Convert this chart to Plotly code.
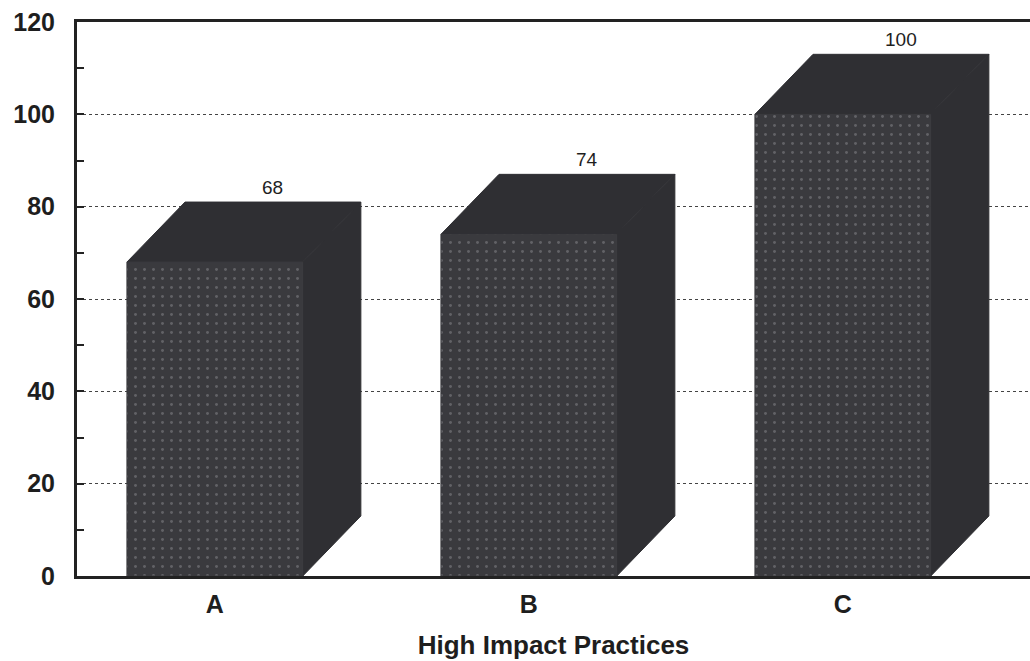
import plotly.graph_objects as go

categories = ["A", "B", "C"]
values = [68, 74, 100]
y_ticks = [0, 20, 40, 60, 80, 100, 120]

# pseudo-3D geometry (in axis units)
half_w = 0.28
depth_x = 0.185
depth_y = 13

front_color = "#3a3a3e"
side_color = "#2f2f33"
text_font = "Liberation Sans, Arial"

fig = go.Figure()
for i, (cat, v) in enumerate(zip(categories, values)):
    x0, x1 = i - half_w, i + half_w
    # side face
    fig.add_trace(go.Scatter(
        x=[x1, x1 + depth_x, x1 + depth_x, x1, x1],
        y=[0, depth_y, v + depth_y, v, 0],
        fill="toself", fillcolor=side_color, mode="lines",
        line=dict(color=side_color, width=1), hoverinfo="skip", showlegend=False))
    # top face
    fig.add_trace(go.Scatter(
        x=[x0, x0 + depth_x, x1 + depth_x, x1, x0],
        y=[v, v + depth_y, v + depth_y, v, v],
        fill="toself", fillcolor=side_color, mode="lines",
        line=dict(color=side_color, width=1), hoverinfo="skip", showlegend=False))
    # front face
    fig.add_trace(go.Scatter(
        x=[x0, x1, x1, x0, x0],
        y=[0, 0, v, v, 0],
        fill="toself", fillcolor=front_color, mode="lines",
        fillpattern=dict(shape=".", fgcolor="#8a8a8e", bgcolor=front_color,
                         size=9, solidity=0.08),
        line=dict(color=front_color, width=1), hoverinfo="skip", showlegend=False))
    fig.add_annotation(x=i + depth_x, y=v + depth_y, text=str(v), showarrow=False,
                       yanchor="bottom", yshift=2,
                       font=dict(family=text_font, size=19, color="#1e1e1e"))

fig.update_layout(
    width=1030, height=661,
    margin=dict(l=77, r=0, t=22, b=85),
    plot_bgcolor="white", paper_bgcolor="white",
    showlegend=False,
    font=dict(family=text_font, color="#1e1e1e"),
    xaxis=dict(
        range=[-0.439, 2.596],
        tickmode="array", tickvals=list(range(len(categories))), ticktext=categories,
        showgrid=False, zeroline=False,
        showline=True, linecolor="#222", linewidth=3, mirror=True,
        ticks="", tickfont=dict(size=25, weight="bold"), ticklabelstandoff=4,
        title=dict(text="High Impact Practices", font=dict(size=26, weight="bold"), standoff=19),
    ),
    yaxis=dict(
        range=[0, 120], tickmode="array", tickvals=y_ticks,
        showgrid=True, gridcolor="#444", gridwidth=1, griddash="dot",
        zeroline=False,
        showline=True, linecolor="#222", linewidth=3,
        ticks="inside", ticklen=7, tickwidth=1.5, tickcolor="#222",
        minor=dict(dtick=10, ticks="inside", ticklen=7, tickwidth=1.5, tickcolor="#222", showgrid=False),
        tickfont=dict(size=25, weight="bold"), ticklabelstandoff=14,
    ),
)

fig.write_html("out.html")
